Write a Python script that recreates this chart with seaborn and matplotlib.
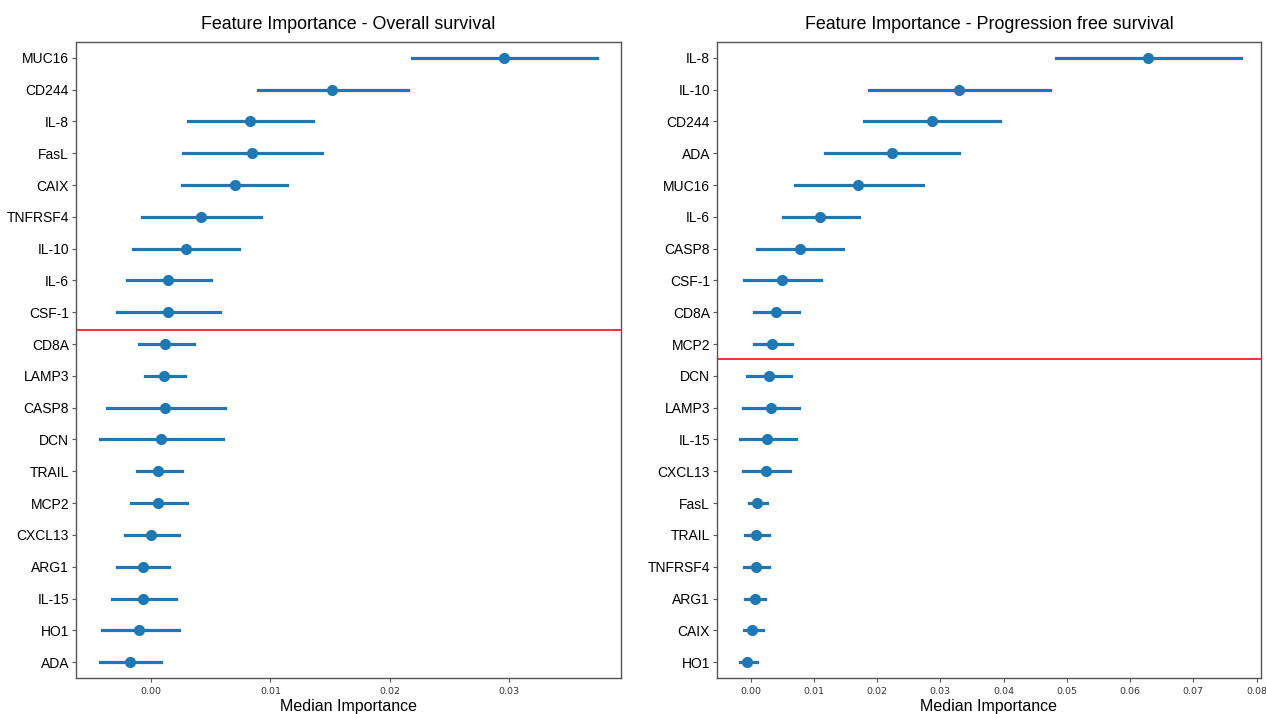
import pandas as pd
import seaborn as sns
import matplotlib.pyplot as plt

# Overall survival: median importance with lower / upper interval
os_features = ["MUC16", "CD244", "IL-8", "FasL", "CAIX", "TNFRSF4", "IL-10", "IL-6", "CSF-1",
               "CD8A", "LAMP3", "CASP8", "DCN", "TRAIL", "MCP2", "CXCL13", "ARG1", "IL-15", "HO1", "ADA"]
os_median = [0.0296, 0.0152, 0.0083, 0.0085, 0.0070, 0.0042, 0.0029, 0.0014, 0.0014,
             0.0012, 0.0011, 0.0012, 0.0008, 0.0006, 0.0006, 0.0000, -0.0007, -0.0007, -0.0010, -0.0018]
os_low = [0.0219, 0.0090, 0.0031, 0.0027, 0.0026, -0.0008, -0.0015, -0.0020, -0.0029,
          -0.0010, -0.0005, -0.0037, -0.0043, -0.0012, -0.0017, -0.0022, -0.0029, -0.0033, -0.0041, -0.0043]
os_high = [0.0374, 0.0215, 0.0136, 0.0143, 0.0114, 0.0092, 0.0074, 0.0050, 0.0058,
           0.0036, 0.0028, 0.0062, 0.0060, 0.0026, 0.0030, 0.0023, 0.0015, 0.0021, 0.0023, 0.0008]

# Progression free survival
pfs_features = ["IL-8", "IL-10", "CD244", "ADA", "MUC16", "IL-6", "CASP8", "CSF-1", "CD8A", "MCP2",
                "DCN", "LAMP3", "IL-15", "CXCL13", "FasL", "TRAIL", "TNFRSF4", "ARG1", "CAIX", "HO1"]
pfs_median = [0.0628, 0.0329, 0.0287, 0.0223, 0.0170, 0.0110, 0.0078, 0.0050, 0.0040, 0.0034,
              0.0029, 0.0032, 0.0026, 0.0025, 0.0011, 0.0009, 0.0009, 0.0007, 0.0003, -0.0005]
pfs_low = [0.0483, 0.0187, 0.0179, 0.0118, 0.0071, 0.0051, 0.0011, -0.0010, 0.0006, 0.0006,
           -0.0005, -0.0012, -0.0017, -0.0012, -0.0003, -0.0008, -0.0010, -0.0008, -0.0011, -0.0017]
pfs_high = [0.0775, 0.0474, 0.0395, 0.0330, 0.0272, 0.0171, 0.0146, 0.0112, 0.0076, 0.0066,
            0.0064, 0.0077, 0.0072, 0.0063, 0.0026, 0.0029, 0.0029, 0.0023, 0.0019, 0.0010]


def to_long(features, low, med, high):
    rows = []
    for f, lo, m, hi in zip(features, low, med, high):
        for v in (lo, m, hi):
            rows.append({"feature": f, "importance": v})
    return pd.DataFrame(rows)


plt.rcParams['font.family'] = ['Liberation Sans', 'DejaVu Sans']

fig = plt.figure(figsize=(12.66, 7.14), dpi=100)
ax1 = fig.add_axes([76 / 1266, 36 / 714, 545 / 1266, 636 / 714])
ax2 = fig.add_axes([717 / 1266, 36 / 714, 544 / 1266, 636 / 714])

panels = [
    (ax1, to_long(os_features, os_low, os_median, os_high), os_features,
     "Feature Importance - Overall survival", 8.57, (-0.0063, 0.0394)),
    (ax2, to_long(pfs_features, pfs_low, pfs_median, pfs_high), pfs_features,
     "Feature Importance - Progression free survival", 9.46, (-0.0053, 0.0807)),
]

for ax, df, order, title, cut, xlim in panels:
    sns.pointplot(
        data=df, x="importance", y="feature", order=order, orient="h",
        estimator="median", errorbar=lambda v: (v.min(), v.max()),
        color="#1f77b4", linestyle="none", markers="o", markersize=6,
        err_kws={"linewidth": 2.3}, ax=ax
    )
    ax.axhline(cut, color="#e8261c", linewidth=1.3)
    ax.set_xlim(*xlim)
    ax.set_ylim(len(order) - 0.5, -0.5)
    ax.set_title(title, fontsize=12.9, pad=9)
    ax.set_xlabel("Median Importance", fontsize=11.5, labelpad=2)
    ax.set_ylabel("")
    ax.tick_params(axis="y", labelsize=10, length=3, pad=2, color="#555555")
    ax.tick_params(axis="x", labelsize=6.8, length=3, color="#555555", labelcolor="#333333")
    for lab in ax.get_xticklabels():
        lab.set_fontfamily("DejaVu Sans")
    for s in ax.spines.values():
        s.set_color("#555555")
        s.set_linewidth(1.0)

fig.savefig("out.png", dpi=100)
plt.close()
